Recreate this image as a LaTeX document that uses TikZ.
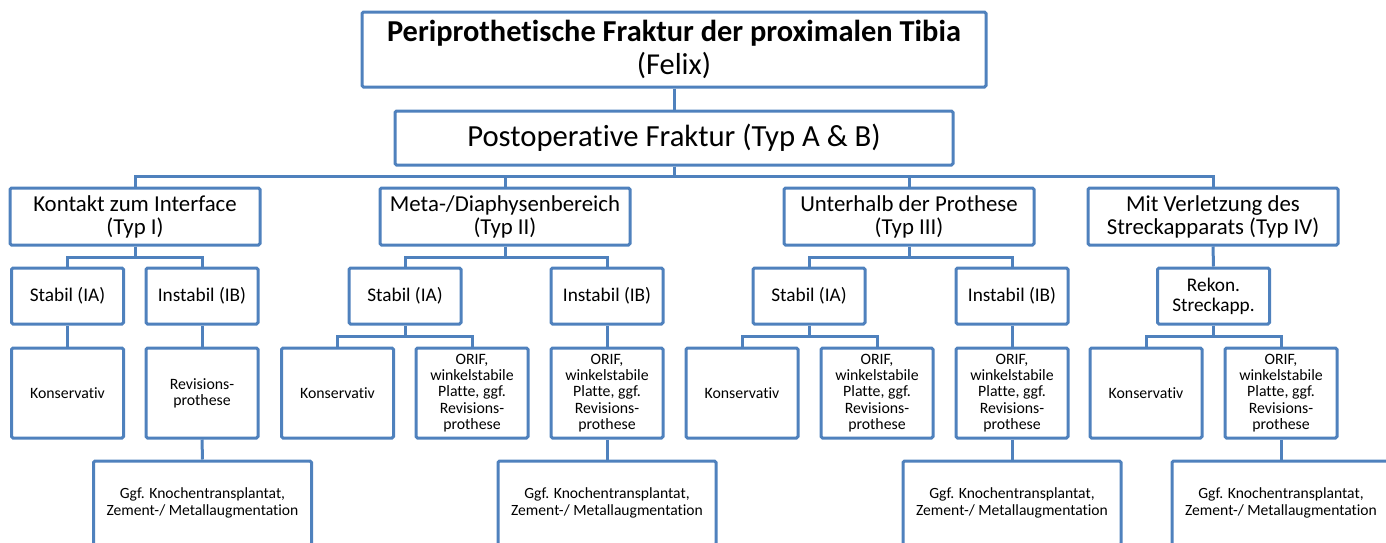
\documentclass[tikz,border=0pt]{standalone}
\usepackage{fontspec}
\setmainfont{Carlito}[Ligatures=CommonOff]
\definecolor{lineblue}{HTML}{4F81BD}
\tikzset{
  bx/.style={draw=lineblue, line width=3pt, fill=white, rounded corners=1.5pt, align=center, inner sep=0pt, text=black},
  con/.style={draw=lineblue, line width=3pt},
  l2/.style={bx, minimum width=250pt, minimum height=57pt, font=\fontsize{22.8}{23}\selectfont},
  l3/.style={bx, minimum width=112pt, minimum height=56pt, font=\fontsize{19.3}{20}\selectfont},
  l4/.style={bx, minimum width=112pt, minimum height=90pt, font=\fontsize{15.8}{16.2}\selectfont},
  l5/.style={bx, minimum width=218pt, minimum height=84pt, font=\fontsize{15.6}{17}\selectfont},
}
\begin{document}
\begin{tikzpicture}[x=1pt,y=-1pt]
\useasboundingbox (0,0) rectangle (1386,542);
\clip (0,0) rectangle (1386,542);
\coordinate (bus0) at (0,176);
\coordinate (bus1) at (0,257);
\coordinate (bus2) at (0,336);

% level 0/1
\node[bx, minimum width=624pt, minimum height=75pt, font=\fontsize{30.4}{33}\selectfont] (top) at (674,49.5) {\textbf{Periprothetische Fraktur der proximalen Tibia}\\(Felix)};
\node[bx, minimum width=558pt, minimum height=54pt, font=\fontsize{30.7}{31}\selectfont] (sec) at (674,138) {Postoperative Fraktur (Typ A \& B)};

% level 2
\node[l2] (k1) at (135,216.5) {Kontakt zum Interface\\(Typ I)};
\node[l2] (k2) at (505,216.5) {Meta-/Diaphysenbereich\\(Typ II)};
\node[l2] (k3) at (909,216.5) {Unterhalb der Prothese\\(Typ III)};
\node[l2] (k4) at (1213,216.5) {Mit Verletzung des\\Streckapparats (Typ IV)};

% level 3
\node[l3] (c1a) at (67.5,296) {Stabil (IA)};
\node[l3] (c1b) at (202,296) {Instabil (IB)};
\node[l3] (c2a) at (405,296) {Stabil (IA)};
\node[l3] (c2b) at (607,296) {Instabil (IB)};
\node[l3] (c3a) at (809,296) {Stabil (IA)};
\node[l3] (c3b) at (1012,296) {Instabil (IB)};
\node[l3] (c4) at (1213.5,296) {Rekon.\\Streckapp.};

% level 4
\node[l4] (d1a) at (67.5,393) {Konservativ};
\node[l4] (d1b) at (202,393) {Revisions-\\prothese};
\node[l4] (d2a) at (337.5,393) {Konservativ};
\node[l4] (d2b) at (472,393) {ORIF,\\winkelstabile\\Platte, ggf.\\Revisions-\\prothese};
\node[l4] (d2c) at (607,393) {ORIF,\\winkelstabile\\Platte, ggf.\\Revisions-\\prothese};
\node[l4] (d3a) at (742,393) {Konservativ};
\node[l4] (d3b) at (877,393) {ORIF,\\winkelstabile\\Platte, ggf.\\Revisions-\\prothese};
\node[l4] (d3c) at (1012,393) {ORIF,\\winkelstabile\\Platte, ggf.\\Revisions-\\prothese};
\node[l4] (d4a) at (1146,393) {Konservativ};
\node[l4] (d4b) at (1281,393) {ORIF,\\winkelstabile\\Platte, ggf.\\Revisions-\\prothese};

% level 5
\node[l5] (e1) at (202.5,503) {Ggf. Knochentransplantat,\\Zement-/ Metallaugmentation};
\node[l5] (e2) at (607,503) {Ggf. Knochentransplantat,\\Zement-/ Metallaugmentation};
\node[l5] (e3) at (1012,503) {Ggf. Knochentransplantat,\\Zement-/ Metallaugmentation};
\node[l5] (e4) at (1281,503) {Ggf. Knochentransplantat,\\Zement-/ Metallaugmentation};

% connectors
\draw[con] (top.south) -- (sec.north);
\foreach \k in {k1,k2,k3,k4}
  \draw[con] (sec.south) -- (sec.south |- bus0) -| (\k.north);
\foreach \p/\c in {k1/c1a,k1/c1b,k2/c2a,k2/c2b,k3/c3a,k3/c3b}
  \draw[con] (\p.south) -- (\p.south |- bus1) -| (\c.north);
\draw[con] (k4.south) -- (c4.north);
\draw[con] (c1a.south) -- (d1a.north);
\draw[con] (c1b.south) -- (d1b.north);
\draw[con] (c2b.south) -- (d2c.north);
\draw[con] (c3b.south) -- (d3c.north);
\foreach \p/\c in {c2a/d2a,c2a/d2b,c3a/d3a,c3a/d3b,c4/d4a,c4/d4b}
  \draw[con] (\p.south) -- (\p.south |- bus2) -| (\c.north);
\draw[con] (d1b.south) -- (e1.north);
\draw[con] (d2c.south) -- (e2.north);
\draw[con] (d3c.south) -- (e3.north);
\draw[con] (d4b.south) -- (e4.north);
\end{tikzpicture}
\end{document}
